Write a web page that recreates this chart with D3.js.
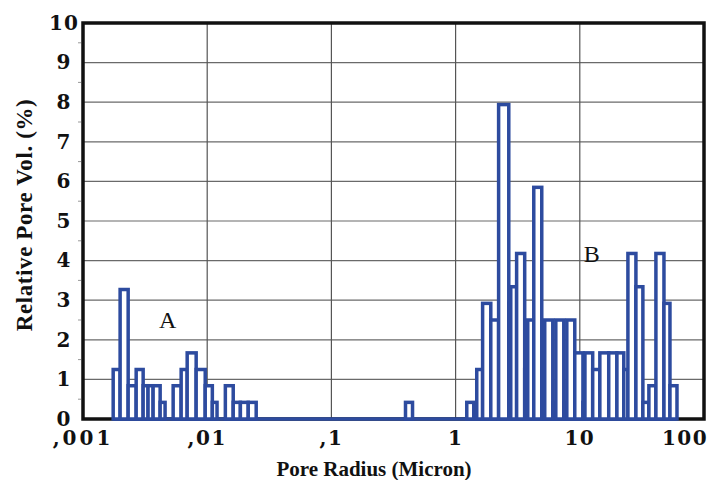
<!DOCTYPE html>
<html><head><meta charset="utf-8">
<script src="https://cdn.jsdelivr.net/npm/d3@7"></script>
<style>body{margin:0;background:#fff}svg{display:block}</style>
</head><body>
<svg id="chart" width="710" height="480"></svg>
<script>
// Histogram bin edges (pore radius, micron) and relative pore volume (%) per bin
const binEdges = [0.00175, 0.00199, 0.00231, 0.00268, 0.00305, 0.00334, 0.00367, 0.00418, 0.00458, 0.00532,
  0.00617, 0.0069, 0.00815, 0.00964, 0.011, 0.012, 0.014, 0.0162, 0.0185, 0.0214, 0.0248,
  0.395, 0.45, 1.23, 1.40, 1.48, 1.65, 1.92, 2.22, 2.68, 2.78, 3.10, 3.60, 3.81, 4.26, 4.94,
  5.22, 6.06, 6.41, 7.43, 7.86, 9.11, 10.6, 11.0, 12.7, 14.5, 17.1, 19.9, 22.6, 24.4, 28.3,
  32.2, 36.0, 41.0, 47.6, 53.2, 60.6];
const relVolume = [1.25, 3.27, 0.84, 1.25, 0.84, 0.84, 0.84, 0.42, 0, 0.84,
  1.25, 1.67, 1.25, 0.84, 0.42, 0, 0.84, 0.42, 0.42, 0.42,
  0, 0.42, 0, 0.42, 0, 1.25, 2.92, 2.5, 7.94, 2.92, 3.34, 4.18, 1.25, 2.5, 5.85,
  1.25, 2.5, 0.42, 2.5, 0.42, 2.5, 1.67, 0.42, 1.67, 1.25, 1.67, 1.67, 1.67, 1.25, 4.18,
  3.34, 0.42, 0.84, 4.18, 2.92, 0.84];
const xTickValues = [0.001, 0.01, 0.1, 1, 10, 100];
const xTickLabels = [",001", ",01", ",1", "1", "10", "100"];
const yTickValues = [0, 1, 2, 3, 4, 5, 6, 7, 8, 9, 10];
const peakLabels = ["A", "B"];
const peakLabelPos = [[0.0048, 2.3], [12.5, 3.97]];
const xTitle = "Pore Radius (Micron)";
const yTitle = "Relative Pore Vol. (%)";

const svg = d3.select("#chart");
const L = 83, R = 704, T = 23, B = 419;
const x = d3.scaleLog().domain([0.001, 100]).range([L, R]);
const y = d3.scaleLinear().domain([0, 10]).range([B, T]);
const blue = "#2d4b9f";

// grid
const grid = svg.append("g");
grid.selectAll("line.h").data(yTickValues.slice(1, -1)).join("line")
  .attr("x1", L).attr("x2", R).attr("y1", d => y(d)).attr("y2", d => y(d))
  .attr("stroke", "#6a6a6a").attr("stroke-width", 1.2);
grid.selectAll("line.v").data(xTickValues.slice(1, -1)).join("line")
  .attr("x1", d => x(d)).attr("x2", d => x(d)).attr("y1", T).attr("y2", B)
  .attr("stroke", "#555").attr("stroke-width", 1.2);

// minor y ticks (outside)
svg.append("g").selectAll("line").data(d3.range(0.5, 10, 1)).join("line")
  .attr("x1", L - 5).attr("x2", L - 2).attr("y1", d => y(d)).attr("y2", d => y(d))
  .attr("stroke", "#999").attr("stroke-width", 1);

// frame
svg.append("rect").attr("x", L).attr("y", T).attr("width", R - L).attr("height", B - T)
  .attr("fill", "none").attr("stroke", "#111").attr("stroke-width", 3.5);

// baseline of histogram
const bins = relVolume.map((v, i) => ({x0: binEdges[i], x1: binEdges[i + 1], v}));
svg.append("line").attr("x1", x(binEdges[0])).attr("x2", x(binEdges[binEdges.length - 1]))
  .attr("y1", y(0)).attr("y2", y(0)).attr("stroke", blue).attr("stroke-width", 3.5);

// bars
svg.append("g").selectAll("rect").data(bins.filter(b => b.v > 0)).join("rect")
  .attr("x", d => x(d.x0)).attr("width", d => x(d.x1) - x(d.x0))
  .attr("y", d => y(d.v)).attr("height", d => y(0) - y(d.v))
  .attr("fill", "#fff").attr("stroke", blue).attr("stroke-width", 3.5);

// tick labels
const tickFont = "'DejaVu Serif', serif";
svg.append("g").selectAll("text").data(yTickValues).join("text")
  .attr("x", 64).attr("y", d => y(d)).attr("dy", "0.34em")
  .attr("text-anchor", "middle").attr("font-family", tickFont).attr("font-weight", "bold")
  .attr("font-size", 20).attr("letter-spacing", 1).attr("fill", "#111").text(d => d);
svg.append("g").selectAll("text").data(xTickValues).join("text")
  .attr("x", (d, i) => i === xTickValues.length - 1 ? x(d) - 19 : x(d)).attr("y", 445)
  .attr("text-anchor", "middle").attr("font-family", tickFont).attr("font-weight", "bold")
  .attr("font-size", 20).attr("letter-spacing", (d, i) => i === 0 ? 3 : 1.5).attr("fill", "#111")
  .text((d, i) => xTickLabels[i]);

// axis titles
svg.append("text").attr("x", 374).attr("y", 476).attr("text-anchor", "middle")
  .attr("font-family", "'Liberation Serif', serif").attr("font-weight", "bold").attr("font-size", 21)
  .attr("fill", "#111").text(xTitle);
svg.append("text").attr("transform", "translate(32,215) rotate(-90)").attr("text-anchor", "middle")
  .attr("font-family", "'Liberation Serif', serif").attr("font-weight", "bold").attr("font-size", 23)
  .attr("letter-spacing", 0.6).attr("fill", "#111").text(yTitle);

// peak labels
svg.append("g").selectAll("text").data(peakLabels).join("text")
  .attr("x", (d, i) => x(peakLabelPos[i][0])).attr("y", (d, i) => y(peakLabelPos[i][1]))
  .attr("text-anchor", "middle").attr("font-family", "'Liberation Serif', serif")
  .attr("font-size", 24).attr("fill", "#111").text(d => d);
</script>
</body></html>
